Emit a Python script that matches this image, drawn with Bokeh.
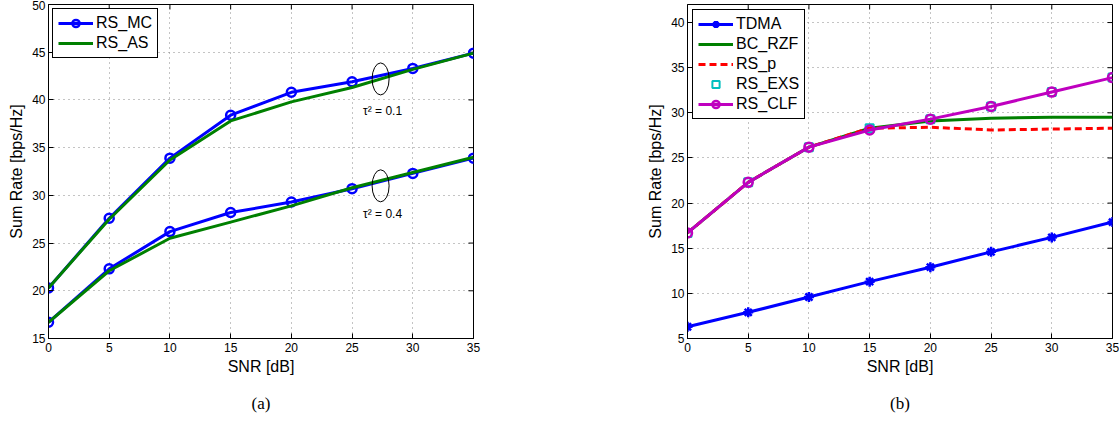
import math
from bokeh.plotting import figure
from bokeh.layouts import row
from bokeh.models import FixedTicker, Title, Range1d
from bokeh.core.properties import value
from bokeh.embed import file_html
from bokeh.resources import INLINE

# ---------------- data ----------------
snr = [0, 5, 10, 15, 20, 25, 30, 35]

# (a)
rs_mc_01 = [20.3, 27.6, 33.9, 38.4, 40.8, 41.9, 43.3, 44.9]
rs_as_01 = [20.3, 27.5, 33.7, 37.8, 39.8, 41.3, 43.2, 44.9]
rs_mc_04 = [16.7, 22.3, 26.2, 28.2, 29.3, 30.7, 32.3, 33.9]
rs_as_04 = [16.7, 22.1, 25.5, 27.2, 28.9, 30.8, 32.4, 34.0]

# (b)
tdma = [6.3, 7.9, 9.6, 11.3, 12.9, 14.6, 16.2, 17.9]
bc_rzf = [16.7, 22.3, 26.2, 28.3, 29.1, 29.4, 29.5, 29.5]
rs_p = [16.7, 22.3, 26.2, 28.3, 28.4, 28.1, 28.2, 28.3]
rs_exs = [16.7, 22.3, 26.2, 28.3, 29.3, 30.7, 32.3, 33.9]
rs_clf = [16.7, 22.3, 26.2, 28.1, 29.3, 30.7, 32.3, 33.9]

x_range = (0, 35)
y_range_a = (15, 50)
y_range_b = (5, 42)
x_ticks = [0, 5, 10, 15, 20, 25, 30, 35]
y_ticks_a = [15, 20, 25, 30, 35, 40, 45, 50]
y_ticks_b = [5, 10, 15, 20, 25, 30, 35, 40]

# annotation labels (a)
tau_labels = ["τ² = 0.1", "τ² = 0.4"]
tau_ellipse_x = [27.35, 27.35]
tau_ellipse_y = [42.2, 31.0]
tau_text_x = [25.9, 25.9]
tau_text_y = [38.8, 28.0]

# ---------------- style ----------------
FONT = "Liberation Sans"
SERIF = "Liberation Serif"
BLUE = "#0000ff"
GREEN = "#008000"
RED = "#ff0000"
CYAN = "#00bfbf"
MAGENTA = "#bf00bf"
H = 427
BORDER_TOP = 4
BORDER_BOTTOM = 89
LW = 3


def make_fig(width, bl, br, yr, yticks, caption, cap_offset):
    p = figure(width=width, height=H, x_range=Range1d(*x_range), y_range=Range1d(*yr),
               output_backend="svg", toolbar_location=None,
               min_border_left=bl, min_border_right=br,
               min_border_top=BORDER_TOP, min_border_bottom=BORDER_BOTTOM,
               x_axis_label="SNR [dB]", y_axis_label="Sum Rate [bps/Hz]")
    p.background_fill_color = "white"
    p.border_fill_color = "white"
    p.outline_line_color = "black"
    p.outline_line_width = 1
    p.outline_line_alpha = 1
    p.xaxis.ticker = FixedTicker(ticks=x_ticks)
    p.yaxis.ticker = FixedTicker(ticks=yticks)
    for ax in (p.xaxis[0], p.yaxis[0]):
        ax.major_tick_in = 5
        ax.major_tick_out = 0
        ax.minor_tick_line_color = None
        ax.axis_line_color = "black"
        ax.major_tick_line_color = "black"
        ax.major_label_text_font = FONT
        ax.major_label_text_font_size = "12px"
        ax.major_label_text_color = "black"
        ax.axis_label_text_font = FONT
        ax.axis_label_text_font_size = "16px"
        ax.axis_label_text_font_style = "normal"
        ax.axis_label_text_color = "black"
    p.xaxis.major_label_standoff = 4
    p.xaxis.axis_label_standoff = 3
    p.yaxis.major_label_standoff = 3
    p.yaxis.axis_label_standoff = 4
    # mirrored inward ticks on top and right edges
    p.ray(x=x_ticks, y=[yr[1]] * len(x_ticks), length=5, length_units="screen",
          angle=-math.pi / 2, line_color="black", line_width=1)
    p.ray(x=[x_range[1]] * len(yticks), y=yticks, length=5, length_units="screen",
          angle=math.pi, line_color="black", line_width=1)
    p.grid.grid_line_color = "#888888"
    p.grid.grid_line_dash = "1 4"
    p.grid.grid_line_width = 1
    p.xgrid.ticker = FixedTicker(ticks=x_ticks)
    p.ygrid.ticker = FixedTicker(ticks=yticks)
    p.add_layout(Title(text=caption, align="center", offset=cap_offset, standoff=29,
                       text_font=SERIF, text_font_size="17px", text_font_style="normal",
                       text_color="black"), "below")
    return p


# ---------------- (a) ----------------
pa = make_fig(573, 48, 100, y_range_a, y_ticks_a, "(a)", -14)
pa.line(snr, rs_mc_01, color=BLUE, line_width=LW, legend_label="RS_MC")
pa.scatter(snr, rs_mc_01, marker="circle", size=9, line_color=BLUE, line_width=2.5,
           fill_color=None, legend_label="RS_MC")
pa.line(snr, rs_mc_04, color=BLUE, line_width=LW)
pa.scatter(snr, rs_mc_04, marker="circle", size=9, line_color=BLUE, line_width=2.5,
           fill_color=None)
pa.line(snr, rs_as_01, color=GREEN, line_width=LW, legend_label="RS_AS")
pa.line(snr, rs_as_04, color=GREEN, line_width=LW)
pa.ellipse(x=tau_ellipse_x, y=tau_ellipse_y, width=17, height=32,
           width_units="screen", height_units="screen",
           fill_color=None, line_color="black", line_width=1)
pa.text(x=tau_text_x, y=tau_text_y, text=tau_labels, text_font=value(FONT),
        text_font_size="12px", text_align="left", text_baseline="middle", text_color="black")

# ---------------- (b) ----------------
pb = make_fig(546, 114, 7, y_range_b, y_ticks_b, "(b)", -15)
pb.line(snr, tdma, color=BLUE, line_width=LW, legend_label="TDMA")
pb.scatter(snr, tdma, marker="asterisk", size=10, line_color=BLUE, line_width=2.5,
           legend_label="TDMA")
pb.line(snr, bc_rzf, color=GREEN, line_width=LW, legend_label="BC_RZF")
pb.line(snr, rs_p, color=RED, line_width=LW, line_dash="7 4", legend_label="RS_p")
pb.scatter(snr, rs_exs, marker="square", size=8, line_color=CYAN, line_width=2,
           fill_color=None, legend_label="RS_EXS")
pb.line(snr, rs_clf, color=MAGENTA, line_width=LW, legend_label="RS_CLF")
pb.scatter(snr, rs_clf, marker="circle", size=9, line_color=MAGENTA, line_width=2.5,
           fill_color=None, legend_label="RS_CLF")

for p, m in ((pa, 4), (pb, 5)):
    lg = p.legend[0]
    lg.location = "top_left"
    lg.margin = m
    lg.padding = 5
    lg.spacing = 2
    lg.glyph_width = 35
    lg.glyph_height = 18
    lg.label_height = 18
    lg.label_standoff = 3
    lg.label_text_font = FONT
    lg.label_text_font_size = "16px"
    lg.label_text_color = "black"
    lg.border_line_color = "black"
    lg.border_line_width = 1
    lg.border_line_alpha = 1
    lg.background_fill_alpha = 1

layout = row(pa, pb)
open("out.html", "w").write(file_html(layout, INLINE))
